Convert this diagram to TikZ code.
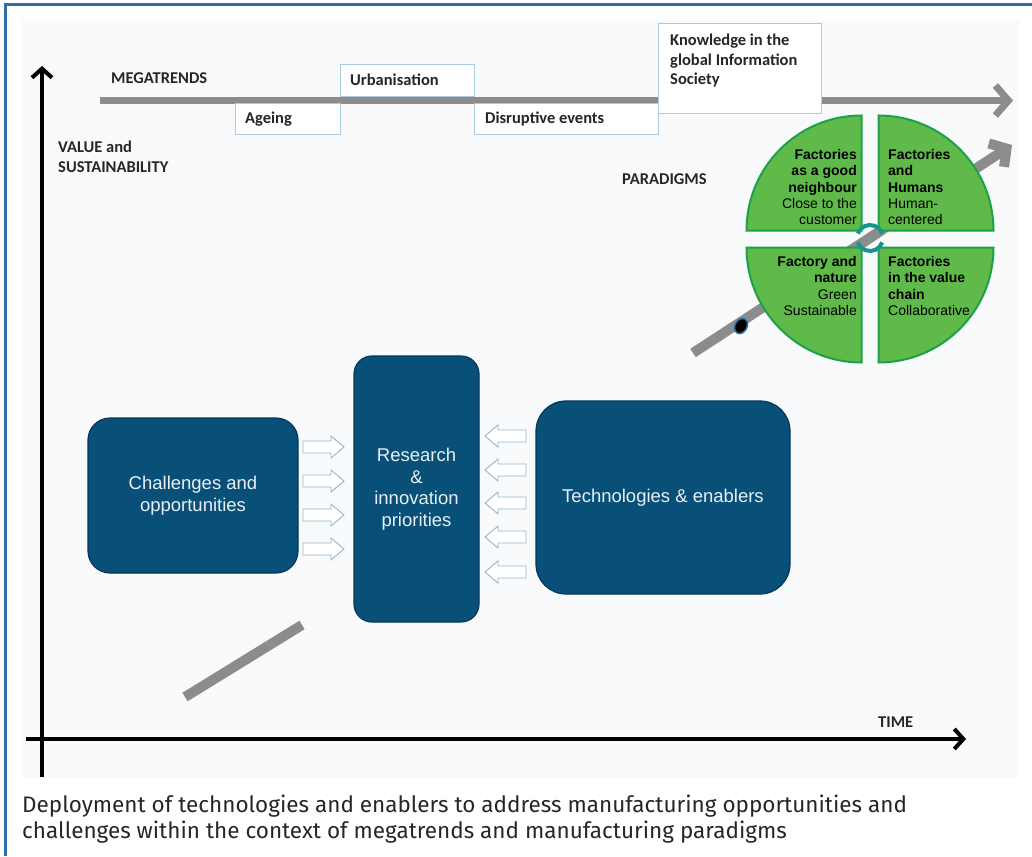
\documentclass[tikz,border=0pt]{standalone}
\usepackage{fontspec}
\setmainfont{Liberation Sans}
\newfontfamily\calfont{Carlito}
\newfontfamily\capfont{Fira Sans}
\usetikzlibrary{arrows.meta, positioning}

\definecolor{frameblue}{RGB}{46,110,165}
\definecolor{innerbg}{RGB}{249,250,252}
\definecolor{boxblue}{RGB}{8,80,120}
\definecolor{boxedge}{RGB}{4,56,90}
\definecolor{boxtext}{RGB}{232,240,245}
\definecolor{trendgray}{RGB}{140,140,140}
\definecolor{trendedge}{RGB}{170,204,226}
\definecolor{leafgreen}{RGB}{96,186,74}
\definecolor{leafedge}{RGB}{28,160,72}
\definecolor{cycleteal}{RGB}{20,150,140}
\definecolor{hollowedge}{RGB}{150,180,200}

\tikzset{
  trendbox/.style={draw=trendedge, fill=white, line width=1pt},
  trendtext/.style={font=\calfont\bfseries\fontsize{16.5}{19.5}\selectfont, anchor=west, inner sep=0pt, text=black!85},
  bluebox/.style={draw=boxedge, fill=boxblue, line width=1.2pt, rounded corners=22pt, text=boxtext, font=\fontsize{18.5}{21.5}\selectfont, align=center},
  leaf/.style={fill=leafgreen, draw=leafedge, line width=2pt},
  leaftext/.style={font=\fontsize{14}{16.4}\selectfont, inner sep=0pt},
  hollowline/.style={draw=hollowedge, fill=white, line width=0.9pt},
  pics/hollowarrow/.style={code={
    \draw[hollowline] (0,-6) -- (28,-6) -- (28,-11) -- (41,0) -- (28,11) -- (28,6) -- (0,6) -- cycle;}},
}

\begin{document}
\begin{tikzpicture}[x=1pt, y=-1pt]
  \useasboundingbox (0,0) rectangle (1032,856);
  % frame and panel
  \fill[innerbg] (22,20) rectangle (1019,778);
  \draw[frameblue, line width=3pt] (5,856) -- (5,5) -- (1032,5);

  % axes
  \draw[line width=4pt, -{Straight Barb[length=9pt, width=20pt]}] (42,777) -- (42,66);
  \draw[line width=4pt, -{Straight Barb[length=9pt, width=20pt]}] (26,739) -- (966,739);
  \node[trendtext, align=left] (value) at (58,157) {VALUE and\\SUSTAINABILITY};
  \node[trendtext] (time) at (878,722) {TIME};

  % megatrends line and boxes
  \draw[trendgray, line width=7pt, -{Straight Barb[length=13pt, width=30pt]}] (100,100.5) -- (1013,100.5);
  \node[trendtext] (mega) at (111,78) {MEGATRENDS};
  \draw[trendbox] (235,104) rectangle (340,134);
  \node[trendtext] (ageing) at (245,119) {Ageing};
  \draw[trendbox] (340,65) rectangle (474,97);
  \node[trendtext] (urban) at (350,80) {Urbanisation};
  \draw[trendbox] (474,104) rectangle (658,134);
  \node[trendtext] (disrupt) at (485,119) {Disruptive events};
  \draw[trendbox] (658,24) rectangle (821,114);
  \node[trendtext, anchor=north west, align=left] (knowledge) at (670,34) {Knowledge in the\\global Information\\Society};

  % paradigms trend
  \draw[trendgray, line width=10pt] (185,697) -- (302,625);
  \draw[trendgray, line width=10pt, -{Straight Barb[length=12pt, width=28pt]}] (693,353) -- (1012,145);
  \draw[fill=black, draw=frameblue, line width=1.5pt, rotate around={-30:(741,326)}] (741,326) ellipse (6pt and 8pt);
  \node[trendtext] (paradigms) at (622,179) {PARADIGMS};

  % four quadrants
  \filldraw[leaf] (861.5,230.5) -- ++(-115,0) arc[start angle=180, end angle=270, radius=115] -- cycle;
  \filldraw[leaf] (878.5,230.5) -- ++(0,-115) arc[start angle=270, end angle=360, radius=115] -- cycle;
  \filldraw[leaf] (878.5,247.5) -- ++(115,0) arc[start angle=0, end angle=90, radius=115] -- cycle;
  \filldraw[leaf] (861.5,247.5) -- ++(0,115) arc[start angle=90, end angle=180, radius=115] -- cycle;
  \draw[trendgray, line width=10pt] (858,246) -- (882,230);
  \draw[cycleteal, line width=4pt] (870,238) ++(20:13) arc[start angle=20, end angle=160, radius=13];
  \draw[cycleteal, line width=4pt] (870,238) ++(200:13) arc[start angle=200, end angle=340, radius=13];

  \node[leaftext, anchor=north east, align=right] (neighbour) at (857,149) {\textbf{Factories}\\\textbf{as a good}\\\textbf{neighbour}\\Close to the\\customer};
  \node[leaftext, anchor=north west, align=left] (humans) at (888,149) {\textbf{Factories}\\\textbf{and}\\\textbf{Humans}\\Human-\\centered};
  \node[leaftext, anchor=north east, align=right] (nature) at (857,256) {\textbf{Factory and}\\\textbf{nature}\\Green\\Sustainable};
  \node[leaftext, anchor=north west, align=left] (chain) at (888,256) {\textbf{Factories}\\\textbf{in the value}\\\textbf{chain}\\Collaborative};

  % blue boxes
  \node[bluebox, minimum width=210pt, minimum height=155pt] (chall) at (193,495.5) {Challenges and\\opportunities};
  \node[bluebox, minimum width=125pt, minimum height=266pt, rounded corners=18pt] (research) at (416.5,489) {Research\\\&\\innovation\\priorities};
  \node[bluebox, minimum width=254pt, minimum height=193pt, rounded corners=30pt] (tech) at (663,497.5) {Technologies \& enablers};

  % hollow arrows
  \foreach \y in {447,481,515,549}
    \pic at (303,\y) {hollowarrow};
  \foreach \y in {436,470,503,537,572}
    \pic[xscale=-1] at (526,\y) {hollowarrow};

  % caption
  \node[anchor=west, inner sep=0pt, align=left, text=black!85, font=\capfont\fontsize{22.5}{26}\selectfont] (caption) at (22,819) {Deployment of technologies and enablers to address manufacturing opportunities and\\challenges within the context of megatrends and manufacturing paradigms};
\end{tikzpicture}
\end{document}
